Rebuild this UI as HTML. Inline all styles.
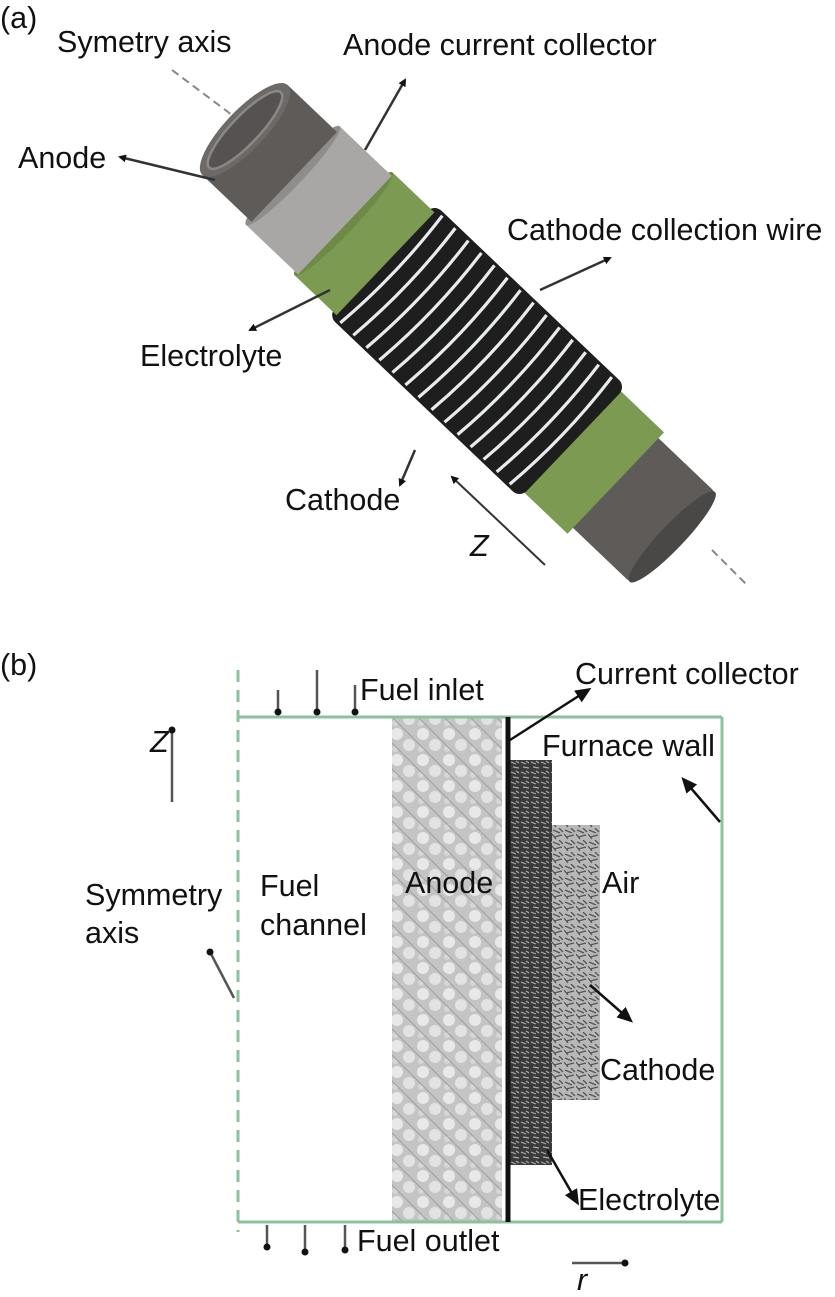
<!DOCTYPE html>
<html><head><meta charset="utf-8"><style>
html,body{margin:0;padding:0;background:#fff}
svg{display:block}
text{font-family:"Liberation Sans",sans-serif;font-size:30.5px;fill:#111}
</style></head><body>
<svg width="835" height="1297" viewBox="0 0 835 1297" xmlns="http://www.w3.org/2000/svg">
<defs>
<marker id="ah" markerWidth="8" markerHeight="8" refX="6" refY="4" orient="auto" markerUnits="userSpaceOnUse"><path d="M0,0 L8,4 L0,8z" fill="#111"/></marker>
<marker id="ab" markerWidth="16" markerHeight="14" refX="12" refY="7" orient="auto" markerUnits="userSpaceOnUse"><path d="M0,0 L16,7 L0,14z" fill="#111"/></marker>
<marker id="dot" markerWidth="8" markerHeight="8" refX="4" refY="4" markerUnits="userSpaceOnUse"><circle cx="4" cy="4" r="3.5" fill="#111"/></marker>
<pattern id="anode" width="26" height="26" patternUnits="userSpaceOnUse">
<rect width="26" height="26" fill="#c4c4c4"/>
<circle cx="7" cy="6" r="6" fill="#e8e8e8"/><circle cx="19" cy="17" r="6" fill="#e2e2e2"/><circle cx="5" cy="21" r="3" fill="#d6d6d6"/><path d="M0,13 L13,26 M13,0 L26,13" stroke="#a0a0a0" stroke-width="1"/>
</pattern>
<pattern id="elec" width="10" height="10" patternUnits="userSpaceOnUse">
<rect width="10" height="10" fill="#3a3a3a"/><path d="M1,2 L6,4 M3,7 L9,8 M6,1 L9,3" stroke="#aaa" stroke-width="1.2"/>
</pattern>
<pattern id="cath" width="12" height="12" patternUnits="userSpaceOnUse">
<rect width="12" height="12" fill="#b8b8b8"/><path d="M1,2 L8,5 M2,9 L10,7 M7,0 L11,4 M0,6 L4,11" stroke="#555" stroke-width="1.3"/>
</pattern>
</defs>

<!-- (a) -->
<text x="0" y="28">(a)</text>
<text x="57" y="52">Symetry axis</text>
<text x="343" y="55">Anode current collector</text>
<text x="18" y="168">Anode</text>
<text x="507" y="240">Cathode collection wire</text>
<text x="140" y="366">Electrolyte</text>
<text x="285" y="510">Cathode</text>
<text x="470" y="556" style="font-style:italic">Z</text>

<line x1="172" y1="70" x2="232" y2="115" stroke="#888" stroke-width="2" stroke-dasharray="8,5"/>
<line x1="712" y1="550" x2="748" y2="586" stroke="#888" stroke-width="2" stroke-dasharray="8,5"/>

<g transform="translate(245,130) rotate(43.6)">
  <rect x="505" y="-62" width="89" height="124" rx="8" fill="#5e5b59"/>
  <ellipse cx="590" cy="0" rx="12" ry="62" fill="#4a4847"/>
  <rect x="448" y="-70" width="64" height="140" fill="#7d9a52"/>
  <rect x="188" y="-77" width="265" height="154" rx="10" fill="#1e1e1e"/>
  <g stroke="#e8ecef" stroke-width="3.2" fill="none">
    <path d="M202,-74 q8,74 0,148"/><path d="M220,-74 q8,74 0,148"/><path d="M238,-74 q8,74 0,148"/><path d="M256,-74 q8,74 0,148"/><path d="M274,-74 q8,74 0,148"/><path d="M292,-74 q8,74 0,148"/><path d="M310,-74 q8,74 0,148"/><path d="M328,-74 q8,74 0,148"/><path d="M346,-74 q8,74 0,148"/><path d="M364,-74 q8,74 0,148"/><path d="M382,-74 q8,74 0,148"/><path d="M400,-74 q8,74 0,148"/><path d="M418,-74 q8,74 0,148"/><path d="M436,-74 q8,74 0,148"/>
  </g>
  <rect x="136" y="-71" width="58" height="142" fill="#7d9a52"/>
  <ellipse cx="136" cy="0" rx="10" ry="71" fill="#6e8a48"/>
  <rect x="66" y="-68" width="72" height="136" fill="#a9a7a6"/>
  <ellipse cx="66" cy="0" rx="10" ry="68" fill="#8f8d8c"/>
  <rect x="0" y="-62" width="68" height="124" fill="#5e5b59"/>
  <ellipse cx="0" cy="0" rx="20" ry="62" fill="#6c6967"/>
  <ellipse cx="0" cy="0" rx="14" ry="52" fill="#555251" stroke="#8a8886" stroke-width="2.5"/>
</g>

<g stroke="#333" stroke-width="2.5" fill="none">
<line x1="215" y1="180" x2="120" y2="157" marker-end="url(#ah)"/>
<line x1="365" y1="150" x2="405" y2="80" marker-end="url(#ah)"/>
<line x1="540" y1="290" x2="610" y2="258" marker-end="url(#ah)"/>
<line x1="330" y1="290" x2="250" y2="330" marker-end="url(#ah)"/>
<line x1="415" y1="450" x2="400" y2="485" marker-end="url(#ah)"/>
<line x1="545" y1="565" x2="452" y2="477" stroke-width="2" marker-end="url(#ah)"/>
</g>

<!-- (b) -->
<text x="0" y="675">(b)</text>
<rect x="392" y="717" width="110" height="505" fill="url(#anode)"/>
<rect x="510" y="760" width="42" height="405" fill="url(#elec)"/>
<rect x="552" y="825" width="48" height="275" fill="url(#cath)"/>
<g stroke="#8fbf9c" stroke-width="3" fill="none">
<line x1="238" y1="717" x2="722" y2="717"/>
<line x1="722" y1="717" x2="722" y2="1222"/>
<line x1="238" y1="1222" x2="722" y2="1222"/>
<line x1="238" y1="670" x2="238" y2="1232" stroke-dasharray="12,8"/>
</g>
<line x1="508" y1="717" x2="508" y2="1222" stroke="#111" stroke-width="5"/>

<text x="360" y="700">Fuel inlet</text>
<text x="575" y="684">Current collector</text>
<text x="542" y="756">Furnace wall</text>
<text x="150" y="752" style="font-style:italic">Z</text>
<text x="85" y="905">Symmetry</text>
<text x="85" y="943">axis</text>
<text x="260" y="896">Fuel</text>
<text x="260" y="935">channel</text>
<text x="405" y="893">Anode</text>
<text x="602" y="893">Air</text>
<text x="600" y="1080">Cathode</text>
<text x="578" y="1210">Electrolyte</text>
<text x="357" y="1251">Fuel outlet</text>
<text x="577" y="1290" style="font-style:italic">r</text>

<g stroke="#555" stroke-width="2.5" fill="none">
<line x1="278" y1="690" x2="278" y2="712" marker-end="url(#dot)"/>
<line x1="317" y1="670" x2="317" y2="712" marker-end="url(#dot)"/>
<line x1="355" y1="685" x2="355" y2="712" marker-end="url(#dot)"/>
<line x1="267" y1="1225" x2="267" y2="1247" marker-end="url(#dot)"/>
<line x1="305" y1="1225" x2="305" y2="1252" marker-end="url(#dot)"/>
<line x1="345" y1="1225" x2="345" y2="1250" marker-end="url(#dot)"/>
<line x1="172" y1="802" x2="172" y2="730" marker-end="url(#dot)"/>
<line x1="234" y1="998" x2="210" y2="952" marker-end="url(#dot)"/>
<line x1="572" y1="1263" x2="625" y2="1263" marker-end="url(#dot)"/>
</g>
<g stroke="#111" stroke-width="2.5" fill="none">
<line x1="510" y1="740" x2="588" y2="690" marker-end="url(#ab)"/>
<line x1="720" y1="822" x2="684" y2="780" marker-end="url(#ab)"/>
<line x1="590" y1="985" x2="630" y2="1020" marker-end="url(#ab)"/>
<line x1="547" y1="1150" x2="577" y2="1202" marker-end="url(#ab)"/>
</g>
</svg>
</body></html>
